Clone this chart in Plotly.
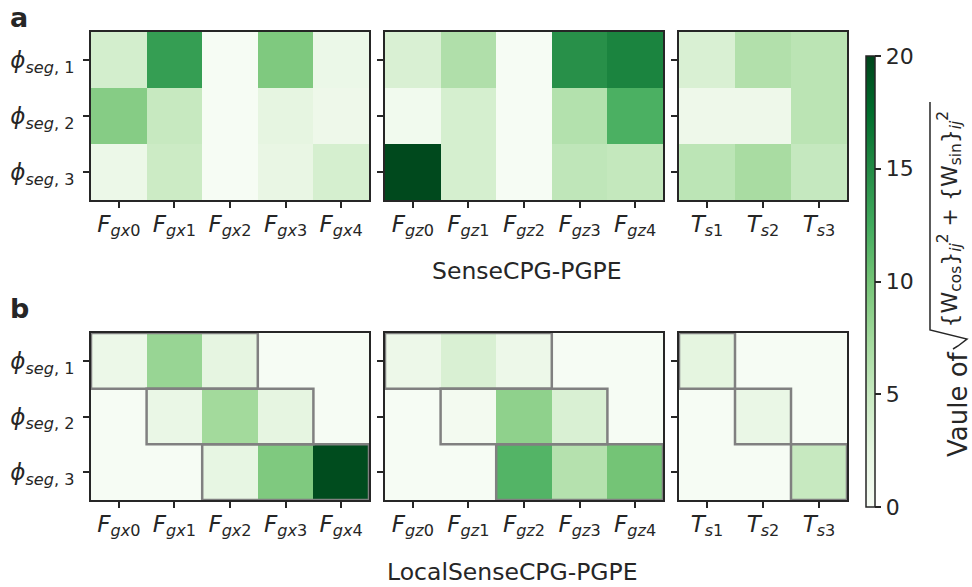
import plotly.graph_objects as go

# ---------------- data ----------------
gx_labels = ["<i>F</i><sub><i>gx</i>0</sub>", "<i>F</i><sub><i>gx</i>1</sub>", "<i>F</i><sub><i>gx</i>2</sub>",
             "<i>F</i><sub><i>gx</i>3</sub>", "<i>F</i><sub><i>gx</i>4</sub>"]
gz_labels = ["<i>F</i><sub><i>gz</i>0</sub>", "<i>F</i><sub><i>gz</i>1</sub>", "<i>F</i><sub><i>gz</i>2</sub>",
             "<i>F</i><sub><i>gz</i>3</sub>", "<i>F</i><sub><i>gz</i>4</sub>"]
ts_labels = ["<i>T</i><sub><i>s</i>1</sub>", "<i>T</i><sub><i>s</i>2</sub>", "<i>T</i><sub><i>s</i>3</sub>"]
row_labels = ["<i>ϕ</i><sub><i>seg</i>, 1</sub>", "<i>ϕ</i><sub><i>seg</i>, 2</sub>", "<i>ϕ</i><sub><i>seg</i>, 3</sub>"]

# SenseCPG-PGPE (panel a)
a_gx = [[4.0, 13.5, 0.1, 9.4, 1.6],
        [9.0, 5.0, 0.1, 2.4, 1.3],
        [1.5, 4.6, 0.1, 2.0, 3.8]]
a_gz = [[3.5, 6.5, 0.1, 14.6, 15.6],
        [0.8, 3.8, 0.1, 6.3, 12.0],
        [19.7, 3.8, 0.1, 5.5, 5.2]]
a_ts = [[3.5, 6.4, 5.8],
        [1.3, 1.3, 5.8],
        [5.7, 7.0, 5.1]]

# LocalSenseCPG-PGPE (panel b)
b_gx = [[1.5, 8.0, 2.4, 0.1, 0.1],
        [0.1, 1.8, 7.4, 2.4, 0.1],
        [0.1, 0.1, 2.2, 9.4, 19.5]]
b_gz = [[1.4, 3.5, 1.4, 0.1, 0.1],
        [0.1, 0.6, 8.5, 3.5, 0.1],
        [0.1, 0.1, 11.6, 6.2, 10.0]]
b_ts = [[2.5, 0.1, 0.1],
        [0.1, 1.8, 0.1],
        [0.1, 0.1, 5.0]]

# local connection windows (first, last column per row)
win_f = [(0, 2), (1, 3), (2, 4)]
win_t = [(0, 0), (1, 1), (2, 2)]

greens = ["rgb(247,252,245)", "rgb(229,245,224)", "rgb(199,233,192)", "rgb(161,217,155)",
          "rgb(116,196,118)", "rgb(65,171,93)", "rgb(35,139,69)", "rgb(0,109,44)", "rgb(0,68,27)"]
cscale = [[i / 8, c] for i, c in enumerate(greens)]

W, H = 972, 587
FONT = "DejaVu Sans"
DARK = "#262626"

def px_x(p):
    return p / W

def px_y(p):
    return 1 - p / H

xdom = [(91, 369), (385, 663), (679, 847)]
ydom = [(32, 200), (333, 500)]

fig = go.Figure()
panels = [(a_gx, gx_labels), (a_gz, gz_labels), (a_ts, ts_labels),
          (b_gx, gx_labels), (b_gz, gz_labels), (b_ts, ts_labels)]

for k, (z, labels) in enumerate(panels):
    r, c = divmod(k, 3)
    n = len(labels)
    idx = "" if k == 0 else str(k + 1)
    fig.add_trace(go.Heatmap(z=z, x=list(range(n)), y=[0, 1, 2], coloraxis="coloraxis",
                             xaxis="x" + idx, yaxis="y" + idx, hoverinfo="skip"))
    axcommon = dict(showline=True, mirror=True, linecolor=DARK, linewidth=2, ticks="outside",
                    ticklen=6, tickwidth=2, tickcolor=DARK, showgrid=False, zeroline=False,
                    tickfont=dict(family=FONT, size=23, color=DARK))
    fig.layout["xaxis" + idx] = dict(axcommon, domain=[px_x(xdom[c][0]), px_x(xdom[c][1])],
                                     anchor="y" + idx, range=[-0.5, n - 0.5],
                                     tickvals=list(range(n)), ticktext=labels,
                                     ticklabelstandoff=-4)
    fig.layout["yaxis" + idx] = dict(axcommon, domain=[px_y(ydom[r][1]), px_y(ydom[r][0])],
                                     anchor="x" + idx, range=[2.5, -0.5],
                                     tickvals=[0, 1, 2],
                                     ticktext=row_labels if c == 0 else ["", "", ""],
                                     ticklabelstandoff=4)
    if r == 1:
        win = win_t if n == 3 else win_f
        for i, (c0, c1) in enumerate(win):
            fig.add_shape(type="rect", xref="x" + idx, yref="y" + idx,
                          x0=c0 - 0.5, x1=c1 + 0.5, y0=i - 0.5, y1=i + 0.5,
                          line=dict(color="rgb(128,128,128)", width=2.5))

fig.update_layout(
    width=W, height=H, margin=dict(l=0, r=0, t=0, b=0),
    paper_bgcolor="white", plot_bgcolor="white",
    font=dict(family=FONT, color=DARK),
    coloraxis=dict(colorscale=cscale, cmin=0, cmax=20,
                   colorbar=dict(x=px_x(866), xanchor="left", xpad=0, ypad=0,
                                 y=px_y((56 + 507) / 2), yanchor="middle",
                                 len=451, lenmode="pixels", thickness=9,
                                 outlinewidth=1.5, outlinecolor=DARK,
                                 ticks="outside", ticklen=6, tickwidth=1.5, tickcolor=DARK,
                                 tickvals=[0, 5, 10, 15, 20],
                                 tickfont=dict(family=FONT, size=22, color=DARK))),
    showlegend=False,
)

# radical sign with overline for the colour-bar label (pixel coords -> paper)
rad_pts = [(953, 349), (958, 346), (967, 339), (930, 330), (930, 102)]
path = "M " + " L ".join(f"{px_x(x):.5f},{px_y(y):.5f}" for x, y in rad_pts)
fig.add_shape(type="path", xref="paper", yref="paper", path=path,
              line=dict(color=DARK, width=1.5))

annos = [
    dict(text="<b>a</b>", x=px_x(19), y=px_y(17), font=dict(size=27)),
    dict(text="<b>b</b>", x=px_x(19), y=px_y(308), font=dict(size=27)),
    dict(text="SenseCPG-PGPE", x=px_x(527), y=px_y(271), font=dict(size=23.5)),
    dict(text="LocalSenseCPG-PGPE", x=px_x(512), y=px_y(572), font=dict(size=23.5)),
    dict(text="Vaule of", x=px_x(958), y=px_y(404), textangle=-90, font=dict(size=26)),
    dict(text="{W<sub>cos</sub>}<sub><i>ij</i></sub><sup>2</sup> + {W<sub>sin</sub>}<sub><i>ij</i></sub><sup>2</sup>",
         x=px_x(949), y=px_y(329), textangle=-90, font=dict(size=22), yanchor="bottom"),
]
for a in annos:
    a.setdefault("yanchor", "middle")
    a.update(xref="paper", yref="paper", showarrow=False, xanchor="center", borderpad=0)
    a["font"] = dict(a["font"], family=FONT, color=DARK)
    fig.add_annotation(**a)

fig.write_html("out.html")
